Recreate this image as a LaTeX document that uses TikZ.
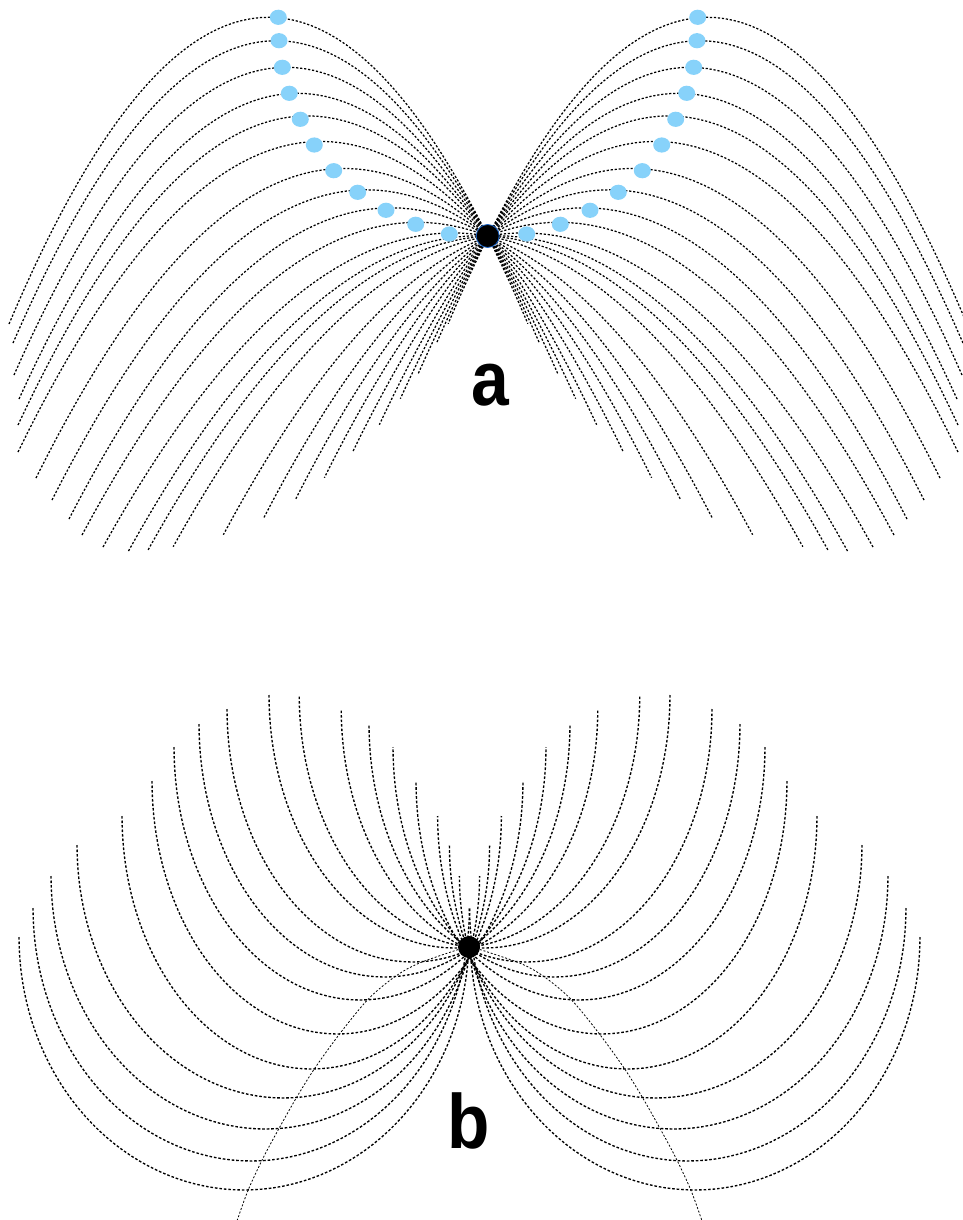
\documentclass[tikz,border=0pt]{standalone}
\usepackage{fontspec}
\setmainfont{Liberation Sans}
\usepackage{tikz}

\definecolor{apexblue}{RGB}{135,210,250}
\definecolor{rimblue}{RGB}{25,100,200}

\begin{document}
\begin{tikzpicture}[
    x=1pt,
    y=-1pt,
    trajA/.style={
        line width=1.25pt,
        dash pattern=on 2.2pt off 1.8pt
    },
    trajB/.style={
        line width=1.35pt,
        dash pattern=on 2.6pt off 1.9pt
    },
    locus/.style={
        line width=0.8pt,
        dash pattern=on 2pt off 1.8pt
    },
    apex/.style={
        fill=apexblue
    },
    launch/.style={
        circle,
        fill=black,
        inner sep=0pt
    },
    panelLabel/.style={
        font=\fontsize{77}{77}\selectfont\bfseries,
        inner sep=0pt,
        anchor=base
    }
]

\useasboundingbox (0,0) rectangle (962,1220);

\coordinate (originA) at (487.7,236);
\coordinate (originB) at (469,946);

% Panel a: downward parabolas through originA, left wing and its mirror (axis x = 488)
\foreach \xo/\yo/\w/\d in {
    478.5/235.8/350/315.2,
    453/232.9/350/314.1,
    417.4/222.3/335.4/312.7,
    390.9/207.8/321.9/311.2,
    366.4/189.8/314.4/310.2,
    343.9/168.4/307.9/309.6,
    320.7/141.4/302.7/310.6,
    307.4/115.9/289.4/309.1,
    297.4/93.3/278.4/305.7,
    286.2/67.3/272.2/307.7,
    276.2/40.7/263.2/302.3,
    268.5/17.3/259.5/306.7
} {
    \draw[trajA] plot[domain=-1:1, samples=61] ({\xo+\w*(\x)}, {\yo+\d*(\x)^2});
    \draw[trajA] plot[domain=-1:1, samples=61] ({976-\xo-\w*(\x)}, {\yo+\d*(\x)^2});
}

% Panel a: apex markers
\foreach \px/\py in {
    278.3/17.3, 279/40.7, 282.3/67.3, 289.3/93.3, 300.3/119.3, 314.3/145,
    333.7/170.7, 357.7/192.3, 386/210.3, 415.7/224.3, 449.3/234
} {
    \fill[apex] (\px,\py) ellipse [x radius=8.5, y radius=7.6];
    \fill[apex] (976-\px,\py) ellipse [x radius=8.5, y radius=7.6];
}

\node[launch, draw=rimblue, line width=0.8pt, minimum size=23pt] (launchA) at (originA) {};
\node[panelLabel] (labelA) at (490,405) {\scalebox{0.88}[1]{a}};

% Panel b: half ellipses through originB, left wing and its mirror (axis x = 469.5)
\foreach \cx/\rx/\ty in {
    454.4/185.4/695,
    412.4/185.4/709,
    384.5/185.5/724,
    360/186/747,
    337.5/185.5/781,
    311.7/189.7/816,
    283.3/206.3/845,
    265.3/214.3/876,
    251.2/218.2/908,
    244/225/937
} {
    \draw[trajB] plot[domain=0:180, samples=73] ({\cx-\rx*cos(\x)}, {\ty+253*sin(\x)});
    \draw[trajB] plot[domain=0:180, samples=73] ({939-\cx+\rx*cos(\x)}, {\ty+253*sin(\x)});
}

% Panel b: loci of the lowest points
\draw[locus] plot[smooth] coordinates {
    (originB) (420,962.8) (395,976.6) (368.3,999) (340,1033.4) (315,1067.9)
    (296.7,1097.2) (280,1126.6) (263.3,1157.6) (248.3,1189.7) (237.3,1220)
};
\draw[locus] plot[smooth] coordinates {
    (originB) (519,962.8) (544,976.6) (570.7,999) (599,1033.4) (624,1067.9)
    (642.3,1097.2) (659,1126.6) (675.7,1157.6) (690.7,1189.7) (701.7,1220)
};

\node[launch, minimum size=22pt] (launchB) at (469,947) {};
\node[panelLabel] (labelB) at (469,1148) {\scalebox{0.9}[1]{b}};

\end{tikzpicture}
\end{document}
